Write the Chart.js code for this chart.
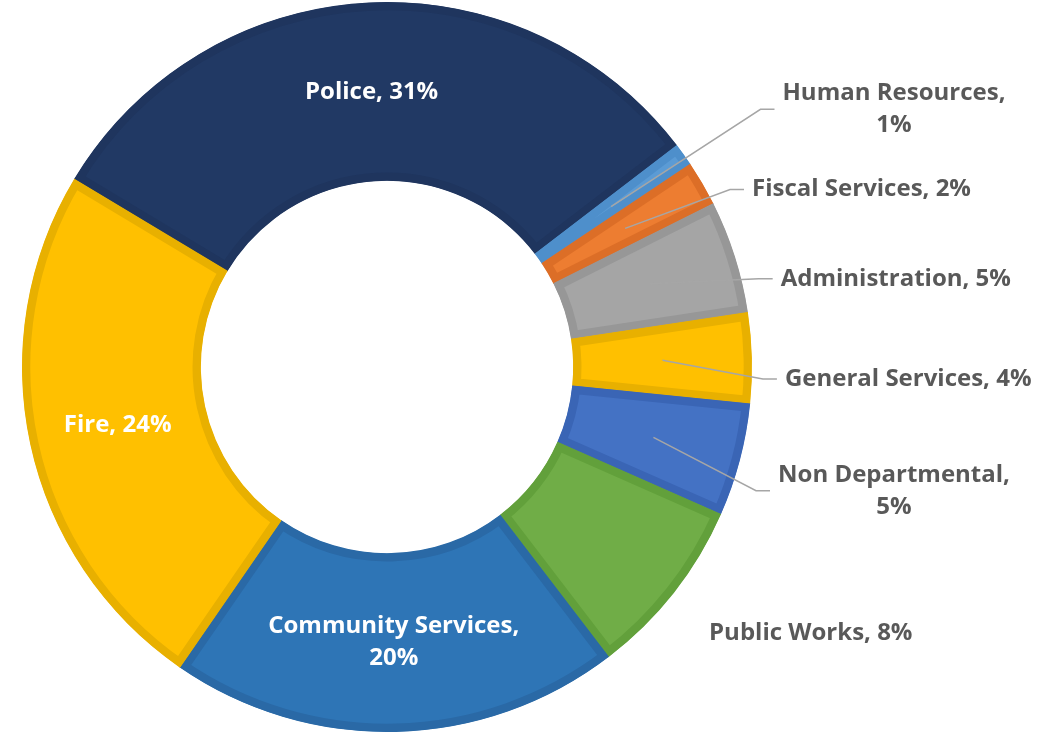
<!DOCTYPE html>
<html>
<head>
<meta charset="utf-8">
<script src="https://cdn.jsdelivr.net/npm/chart.js@4.4.0/dist/chart.umd.min.js"></script>
<style>
  html, body { margin: 0; padding: 0; background: #ffffff; }
  #wrap { position: relative; width: 1037px; height: 732px; }
</style>
</head>
<body>
<div id="wrap"><canvas id="budgetChart"></canvas></div>
<script>
const departments = ['Police', 'Human Resources', 'Fiscal Services', 'Administration', 'General Services',
                     'Non Departmental', 'Public Works', 'Community Services', 'Fire'];
const shares = [31, 1, 2, 5, 4, 5, 8, 20, 24];
const fillColors = ['#213964', '#5b9bd5', '#ed7d31', '#a5a5a5', '#ffc000', '#4472c4', '#70ad47', '#2e75b6', '#ffc000'];
const edgeColors = ['#1f355e', '#4e8fcb', '#dc6e27', '#979797', '#e8b000', '#3a65b5', '#62a03b', '#2a69a6', '#e8b000'];

// label placement per slice: inside the ring, or out to the right
// (fx/fy are offsets from the centre in units of the outer radius)
const labelLayout = [
  { inside: true },
  { fx: 1.389, fy: -0.706, wrap: true, leader: true },
  { fx: 1.300, fy: -0.486, leader: true },
  { fx: 1.394, fy: -0.242, leader: true },
  { fx: 1.428, fy: 0.033, leader: true },
  { fx: 1.389, fy: 0.339, wrap: true, leader: true },
  { fx: 1.161, fy: 0.728 },
  { inside: true, wrap: true },
  { inside: true }
];

const sliceLabels = {
  id: 'sliceLabels',
  afterDatasetsDraw(chart) {
    const ctx = chart.ctx;
    const meta = chart.getDatasetMeta(0);
    ctx.save();
    ctx.font = 'bold 24px "Open Sans"';
    ctx.textAlign = 'center';
    ctx.textBaseline = 'middle';
    meta.data.forEach((arc, i) => {
      const layout = labelLayout[i];
      const lines = layout.wrap
        ? [departments[i] + ',', shares[i] + '%']
        : [departments[i] + ', ' + shares[i] + '%'];
      const c = arc.getCenterPoint();
      let x, y;
      if (layout.inside) {
        x = c.x;
        y = c.y;
        ctx.fillStyle = '#ffffff';
      } else {
        x = arc.x + layout.fx * arc.outerRadius;
        y = arc.y + layout.fy * arc.outerRadius;
        ctx.fillStyle = '#595959';
        if (layout.leader) {
          const w = Math.max(...lines.map(l => ctx.measureText(l).width));
          const left = x - w / 2;
          ctx.strokeStyle = '#a6a6a6';
          ctx.lineWidth = 1.5;
          ctx.beginPath();
          ctx.moveTo(c.x, c.y);
          ctx.lineTo(left - 22, y);
          ctx.lineTo(left - 8, y);
          ctx.stroke();
        }
      }
      const lineHeight = 32;
      lines.forEach((l, k) => {
        ctx.fillText(l, x, y + (k - (lines.length - 1) / 2) * lineHeight);
      });
    });
    ctx.restore();
  }
};

new Chart(document.getElementById('budgetChart'), {
  type: 'doughnut',
  data: {
    labels: departments,
    datasets: [{
      data: shares,
      backgroundColor: fillColors,
      borderColor: edgeColors,
      borderWidth: 8,
      borderAlign: 'inner'
    }]
  },
  options: {
    responsive: true,
    maintainAspectRatio: false,
    animation: false,
    events: [],
    rotation: -59,
    cutout: '51%',
    layout: { padding: { left: 6, right: 269, top: 2, bottom: 0 } },
    plugins: {
      legend: { display: false },
      tooltip: { enabled: false }
    }
  },
  plugins: [sliceLabels]
});
</script>
</body>
</html>
